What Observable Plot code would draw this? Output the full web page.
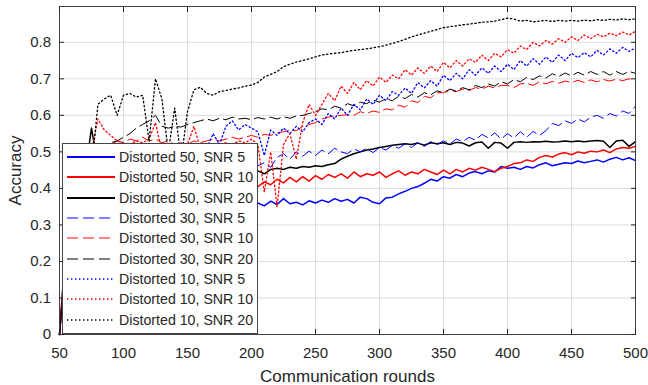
<!DOCTYPE html>
<html>
<head>
<meta charset="utf-8">
<script src="https://cdn.jsdelivr.net/npm/d3@7"></script>
<script src="https://cdn.jsdelivr.net/npm/@observablehq/plot@0.6"></script>
<style>
  body { margin: 0; background: #fff; }
  #wrap { position: relative; width: 648px; height: 385px; font-family: "Liberation Sans", Arial, sans-serif; }
  #legend { position: absolute; left: 62px; top: 143px; width: 194px; background: #fff; border: 1px solid #444;
            padding: 3px 0 3px 0; box-sizing: content-box; }
  .row { display: flex; align-items: center; height: 20.3px; font-size: 14.2px; color: #262626; white-space: nowrap; }
  .row svg { margin-left: 4px; margin-right: 4px; }
</style>
</head>
<body>
<div id="wrap"></div>
<script>
const rounds = [50,55,60,65,70,75,80,85,90,95,
100,105,110,115,120,125,130,135,140,145,
150,155,160,165,170,175,180,185,190,195,
200,205,210,215,220,225,230,235,240,245,
250,255,260,265,270,275,280,285,290,295,
300,305,310,315,320,325,330,335,340,345,
350,355,360,365,370,375,380,385,390,395,
400,405,410,415,420,425,430,435,440,445,
450,455,460,465,470,475,480,485,490,495,500];

const d50snr5 = [0,0.22,0.28,0.30,0.31,0.32,0.33,0.33,0.34,0.34,
0.34,0.35,0.35,0.35,0.35,0.35,0.35,0.35,0.36,0.36,
0.36,0.36,0.36,0.36,0.36,0.36,0.36,0.36,0.36,0.36,
0.355,0.36,0.352,0.365,0.356,0.372,0.358,0.362,0.355,0.366,
0.36,0.368,0.362,0.372,0.365,0.37,0.36,0.376,0.372,0.362,
0.358,0.374,0.376,0.385,0.392,0.40,0.405,0.414,0.425,0.42,
0.432,0.428,0.438,0.432,0.442,0.446,0.44,0.448,0.445,0.46,
0.455,0.458,0.452,0.46,0.456,0.465,0.47,0.462,0.466,0.47,
0.468,0.475,0.47,0.474,0.478,0.472,0.48,0.485,0.478,0.484,0.476];

const d50snr10 = [0,0.2,0.3,0.33,0.35,0.36,0.37,0.37,0.38,0.38,
0.38,0.39,0.39,0.39,0.39,0.40,0.40,0.40,0.40,0.40,
0.40,0.41,0.41,0.41,0.41,0.41,0.41,0.41,0.41,0.41,
0.41,0.405,0.418,0.41,0.425,0.415,0.43,0.418,0.432,0.42,
0.435,0.425,0.438,0.43,0.44,0.428,0.445,0.432,0.44,0.436,
0.445,0.43,0.44,0.448,0.436,0.445,0.44,0.452,0.445,0.438,
0.45,0.44,0.452,0.445,0.455,0.45,0.458,0.452,0.446,0.455,
0.46,0.468,0.47,0.478,0.474,0.485,0.49,0.486,0.494,0.498,
0.492,0.5,0.496,0.502,0.5,0.505,0.498,0.508,0.512,0.51,0.515];

const d50snr20 = [0,0.25,0.35,0.40,0.44,0.565,0.46,0.45,0.45,0.45,
0.45,0.45,0.45,0.45,0.45,0.45,0.45,0.45,0.45,0.45,
0.45,0.45,0.45,0.45,0.45,0.45,0.45,0.45,0.45,0.45,
0.45,0.448,0.44,0.452,0.455,0.452,0.458,0.455,0.46,0.458,
0.462,0.46,0.465,0.468,0.48,0.488,0.495,0.5,0.505,0.508,
0.512,0.515,0.518,0.52,0.522,0.52,0.524,0.518,0.525,0.522,
0.525,0.52,0.526,0.524,0.516,0.525,0.527,0.51,0.526,0.524,
0.51,0.526,0.528,0.526,0.528,0.527,0.529,0.527,0.528,0.53,
0.528,0.53,0.528,0.53,0.531,0.529,0.512,0.53,0.532,0.515,0.528];

const d30snr5 = [0,0.2,0.3,0.35,0.38,0.40,0.41,0.42,0.42,0.43,
0.43,0.43,0.44,0.44,0.44,0.44,0.45,0.45,0.45,0.45,
0.45,0.45,0.46,0.46,0.46,0.46,0.46,0.46,0.46,0.46,
0.46,0.462,0.47,0.458,0.485,0.495,0.48,0.5,0.488,0.502,
0.49,0.505,0.495,0.51,0.5,0.495,0.508,0.5,0.51,0.498,
0.512,0.505,0.518,0.51,0.522,0.512,0.525,0.515,0.528,0.52,
0.53,0.522,0.535,0.528,0.54,0.532,0.548,0.538,0.552,0.535,
0.55,0.538,0.555,0.54,0.556,0.545,0.558,0.578,0.572,0.585,
0.578,0.59,0.582,0.595,0.6,0.592,0.605,0.598,0.612,0.605,0.625];

const d30snr10 = [0,0.2,0.35,0.42,0.46,0.48,0.5,0.51,0.52,0.53,
0.525,0.535,0.53,0.54,0.53,0.535,0.525,0.53,0.52,0.525,
0.52,0.53,0.525,0.53,0.535,0.53,0.535,0.54,0.535,0.54,
0.545,0.54,0.548,0.545,0.552,0.555,0.56,0.558,0.57,0.575,
0.58,0.59,0.595,0.598,0.6,0.602,0.6,0.61,0.605,0.612,
0.608,0.618,0.615,0.628,0.622,0.64,0.635,0.652,0.648,0.662,
0.662,0.668,0.665,0.672,0.668,0.676,0.672,0.68,0.675,0.682,
0.682,0.676,0.686,0.688,0.682,0.692,0.686,0.693,0.688,0.694,
0.69,0.696,0.69,0.697,0.692,0.698,0.694,0.699,0.695,0.7,0.696];

const d30snr20 = [0,0.2,0.35,0.42,0.46,0.48,0.5,0.515,0.525,0.53,
0.54,0.55,0.565,0.575,0.585,0.6,0.57,0.565,0.57,0.568,
0.575,0.58,0.585,0.59,0.585,0.592,0.588,0.595,0.59,0.592,
0.588,0.594,0.59,0.595,0.59,0.596,0.592,0.598,0.6,0.605,
0.61,0.618,0.615,0.625,0.62,0.632,0.626,0.636,0.632,0.642,
0.636,0.646,0.64,0.652,0.646,0.657,0.65,0.662,0.656,0.667,
0.662,0.672,0.666,0.676,0.67,0.682,0.676,0.686,0.68,0.692,
0.686,0.698,0.692,0.704,0.698,0.708,0.702,0.714,0.706,0.716,
0.708,0.718,0.71,0.72,0.712,0.72,0.71,0.72,0.712,0.72,0.715];

const d10snr5 = [0,0.2,0.3,0.35,0.38,0.40,0.42,0.43,0.44,0.45,
0.45,0.46,0.46,0.47,0.47,0.47,0.48,0.48,0.48,0.49,
0.49,0.49,0.50,0.51,0.55,0.52,0.57,0.585,0.56,0.575,
0.565,0.555,0.49,0.56,0.545,0.565,0.55,0.57,0.555,0.58,
0.59,0.575,0.605,0.59,0.62,0.6,0.63,0.615,0.645,0.63,
0.655,0.64,0.665,0.655,0.675,0.66,0.69,0.675,0.695,0.68,
0.71,0.695,0.715,0.7,0.725,0.71,0.73,0.715,0.735,0.72,
0.74,0.725,0.75,0.735,0.755,0.74,0.76,0.745,0.765,0.75,
0.77,0.758,0.772,0.76,0.778,0.765,0.782,0.77,0.786,0.775,0.785];

const d10snr10 = [0,0.25,0.38,0.44,0.47,0.5,0.59,0.56,0.545,0.53,
0.525,0.52,0.53,0.525,0.535,0.58,0.5,0.51,0.5,0.51,
0.52,0.57,0.51,0.52,0.51,0.52,0.525,0.52,0.53,0.525,
0.535,0.52,0.39,0.5,0.35,0.52,0.55,0.48,0.58,0.63,
0.6,0.63,0.66,0.64,0.68,0.66,0.69,0.67,0.695,0.68,
0.705,0.69,0.71,0.7,0.725,0.71,0.73,0.715,0.735,0.72,
0.745,0.73,0.75,0.735,0.755,0.745,0.765,0.75,0.77,0.76,
0.78,0.77,0.79,0.78,0.8,0.79,0.805,0.795,0.81,0.8,
0.815,0.805,0.82,0.81,0.822,0.815,0.825,0.818,0.828,0.82,0.83];

const d10snr20 = [0,0.2,0.32,0.38,0.42,0.45,0.63,0.645,0.655,0.60,
0.655,0.66,0.65,0.655,0.53,0.70,0.645,0.5,0.62,0.48,
0.61,0.67,0.677,0.66,0.655,0.665,0.668,0.672,0.675,0.68,
0.683,0.69,0.705,0.712,0.72,0.733,0.74,0.746,0.75,0.755,
0.76,0.765,0.768,0.77,0.772,0.775,0.778,0.78,0.782,0.785,
0.788,0.792,0.797,0.802,0.808,0.815,0.82,0.825,0.83,0.835,
0.84,0.843,0.845,0.848,0.85,0.852,0.855,0.856,0.858,0.862,
0.866,0.864,0.858,0.86,0.856,0.858,0.86,0.857,0.86,0.858,
0.86,0.858,0.861,0.859,0.862,0.86,0.863,0.861,0.864,0.862,0.864];

const seriesNames = ["Distorted 50, SNR 5","Distorted 50, SNR 10","Distorted 50, SNR 20",
  "Distorted 30, SNR 5","Distorted 30, SNR 10","Distorted 30, SNR 20",
  "Distorted 10, SNR 5","Distorted 10, SNR 10","Distorted 10, SNR 20"];
const seriesValues = [d50snr5,d50snr10,d50snr20,d30snr5,d30snr10,d30snr20,d10snr5,d10snr10,d10snr20];

const xTicks = [50,100,150,200,250,300,350,400,450,500];
const yTicks = [0,0.1,0.2,0.3,0.4,0.5,0.6,0.7,0.8];

const colors = ["#0000ff","#ff0000","#000000"];
const styles = [
  {dash: null, width: 1.5, legendWidth: 2},
  {dash: "11,5", width: 1, legendWidth: 1},
  {dash: "1.4,2.6", width: 1.3, legendWidth: 1.4}
];

const series = seriesNames.map((name, k) => ({
  name,
  values: seriesValues[k],
  color: colors[k % 3],
  dash: styles[Math.floor(k / 3)].dash,
  width: styles[Math.floor(k / 3)].width,
  legendWidth: styles[Math.floor(k / 3)].legendWidth
}));

const font = '"Liberation Sans", Arial, sans-serif';
const axisColor = "#262626";

const lineMarks = series.map(s => Plot.line(
  rounds.map((r, i) => ({round: r, acc: s.values[i]})),
  {x: "round", y: "acc", stroke: s.color, strokeWidth: s.width, strokeDasharray: s.dash, strokeLinejoin: "round"}
));

const chart = Plot.plot({
  width: 648,
  height: 385,
  marginLeft: 59,
  marginRight: 13,
  marginTop: 6,
  marginBottom: 51,
  style: {fontFamily: font, background: "#fff", color: axisColor},
  x: {domain: [50, 500]},
  y: {domain: [0, 0.898]},
  marks: [
    Plot.gridX(xTicks, {stroke: "#dcdcdc", strokeOpacity: 1}),
    Plot.gridY(yTicks, {stroke: "#dcdcdc", strokeOpacity: 1}),
    ...lineMarks,
    Plot.frame({stroke: "#404040"}),
    Plot.axisX(xTicks, {anchor: "bottom", tickSize: 0, tickPadding: 12.5, fontSize: 15, label: null, tickFormat: d => String(d), fill: axisColor}),
    Plot.axisX(xTicks, {anchor: "bottom", tickSize: -5, label: null, tickFormat: () => "", stroke: axisColor}),
    Plot.axisX(xTicks, {anchor: "top", tickSize: -5, label: null, tickFormat: () => "", stroke: axisColor}),
    Plot.axisY(yTicks, {anchor: "left", tickSize: 0, tickPadding: 8.5, fontSize: 15, label: null, tickFormat: d => String(+d.toFixed(1)), fill: axisColor}),
    Plot.axisY(yTicks, {anchor: "left", tickSize: -5, label: null, tickFormat: () => "", stroke: axisColor}),
    Plot.axisY(yTicks, {anchor: "right", tickSize: -5, label: null, tickFormat: () => "", stroke: axisColor}),
    Plot.text(["Communication rounds"], {frameAnchor: "bottom", text: d => d, dy: 42, lineAnchor: "middle", textAnchor: "middle", fontSize: 17, fill: axisColor}),
    Plot.text(["Accuracy"], {frameAnchor: "left", text: d => d, dx: -44, rotate: -90, lineAnchor: "middle", textAnchor: "middle", fontSize: 17, fill: axisColor})
  ]
});

const wrap = document.getElementById("wrap");
wrap.appendChild(chart);

const legend = document.createElement("div");
legend.id = "legend";
series.forEach(s => {
  const row = document.createElement("div");
  row.className = "row";
  const svgNS = "http://www.w3.org/2000/svg";
  const svg = document.createElementNS(svgNS, "svg");
  svg.setAttribute("width", 48);
  svg.setAttribute("height", 6);
  const ln = document.createElementNS(svgNS, "line");
  ln.setAttribute("x1", 0); ln.setAttribute("x2", 48);
  ln.setAttribute("y1", 3); ln.setAttribute("y2", 3);
  ln.setAttribute("stroke", s.color);
  ln.setAttribute("stroke-width", s.legendWidth);
  if (s.dash) ln.setAttribute("stroke-dasharray", s.dash);
  svg.appendChild(ln);
  row.appendChild(svg);
  const t = document.createElement("span");
  t.textContent = s.name;
  row.appendChild(t);
  legend.appendChild(row);
});
wrap.appendChild(legend);
</script>
</body>
</html>
